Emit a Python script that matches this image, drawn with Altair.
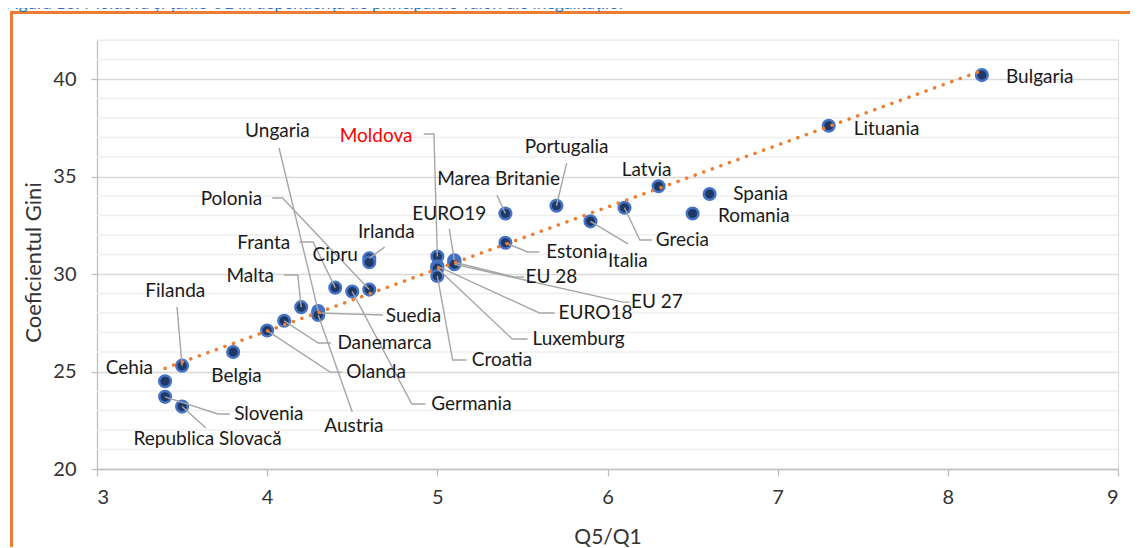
import altair as alt
import pandas as pd

# ---------------- data ----------------
countries = ["Bulgaria", "Lituania", "Spania", "Romania", "Latvia", "Grecia", "Italia",
             "Portugalia", "Marea Britanie", "Estonia", "Moldova", "EURO19", "EU 28",
             "EU 27", "EURO18", "Luxemburg", "Croatia", "Irlanda", "Cipru", "Polonia",
             "Germania", "Franta", "Ungaria", "Suedia", "Austria", "Malta", "Danemarca",
             "Olanda", "Belgia", "Filanda", "Cehia", "Slovenia", "Republica Slovacă"]
q5q1 = [8.2, 7.3, 6.6, 6.5, 6.3, 6.1, 5.9, 5.7, 5.4, 5.4, 5.0, 5.1, 5.1, 5.1, 5.0, 5.0,
        5.0, 4.6, 4.6, 4.6, 4.5, 4.4, 4.3, 4.3, 4.3, 4.2, 4.1, 4.0, 3.8, 3.5, 3.4, 3.4, 3.5]
gini = [40.2, 37.6, 34.1, 33.1, 34.5, 33.4, 32.7, 33.5, 33.1, 31.6, 30.9, 30.7, 30.6,
        30.5, 30.4, 30.3, 29.9, 30.8, 30.6, 29.2, 29.1, 29.3, 28.1, 28.0, 27.9, 28.3,
        27.6, 27.1, 26.0, 25.3, 24.5, 23.7, 23.2]

x_ticks = [3, 4, 5, 6, 7, 8, 9]
y_major = [20, 25, 30, 35, 40]
y_minor = [21, 22, 23, 24, 26, 27, 28, 29, 31, 32, 33, 34, 36, 37, 38, 39, 41, 42]

title_text = "Figura 13: Moldova și țările UE în dependența de principalele valori ale inegalităților"

# label placement (data units)
label_pos = {
    "Bulgaria": (8.54, 40.10), "Lituania": (7.64, 37.44), "Spania": (6.90, 34.12),
    "Romania": (6.86, 32.95), "Latvia": (6.23, 35.33), "Grecia": (6.44, 31.74),
    "Italia": (6.12, 30.67), "Estonia": (5.82, 31.13), "Portugalia": (5.76, 36.51),
    "Marea Britanie": (5.36, 34.87), "EURO19": (5.07, 33.08), "Moldova": (4.64, 37.08),
    "Ungaria": (4.06, 37.33), "Polonia": (3.79, 33.85), "Irlanda": (4.70, 32.15),
    "Franta": (3.98, 31.59), "Cipru": (4.40, 30.97), "Malta": (3.90, 29.90),
    "Filanda": (3.46, 29.13), "Cehia": (3.19, 25.18), "Belgia": (3.82, 24.77),
    "Slovenia": (4.01, 22.82), "Republica Slovacă": (3.65, 21.54), "Austria": (4.51, 22.21),
    "Germania": (5.20, 23.33), "Olanda": (4.64, 24.97), "Danemarca": (4.69, 26.46),
    "Suedia": (4.86, 27.85), "Croatia": (5.38, 25.59), "Luxemburg": (5.83, 26.67),
    "EURO18": (5.93, 28.00), "EU 27": (6.29, 28.56), "EU 28": (5.67, 29.85),
}

# leader-line waypoints from the label (data units); the line ends at the point
leaders = {
    "Moldova": [(4.92, 37.18), (4.98, 37.18)],
    "Ungaria": [(4.07, 36.46)],
    "Polonia": [(4.03, 33.90), (4.09, 33.90)],
    "Franta": [(4.19, 31.64), (4.27, 31.64)],
    "Malta": [(4.10, 29.95), (4.18, 29.95)],
    "Irlanda": [(4.69, 31.38)],
    "Filanda": [(3.47, 28.31)],
    "Slovenia": [(3.78, 22.82), (3.71, 22.82)],
    "Republica Slovacă": [(3.64, 22.10)],
    "Austria": [(4.50, 22.92)],
    "Germania": [(4.93, 23.33), (4.85, 23.33)],
    "Olanda": [(4.44, 24.97), (4.37, 24.97)],
    "Danemarca": [(4.375, 26.46), (4.30, 26.46)],
    "Suedia": [(4.68, 27.90)],
    "Croatia": [(5.17, 25.59), (5.09, 25.59)],
    "Luxemburg": [(5.53, 26.67), (5.44, 26.67)],
    "EURO18": [(5.69, 28.00), (5.60, 28.00)],
    "EU 27": [(6.13, 28.56), (6.09, 28.56)],
    "EU 28": [(5.51, 29.85), (5.45, 29.85)],
    "EURO19": [(5.07, 32.31)],
    "Estonia": [(5.60, 31.13), (5.53, 31.13)],
    "Italia": [(6.12, 31.54)],
    "Grecia": [(6.26, 31.74), (6.19, 31.74)],
    "Marea Britanie": [(5.35, 34.05)],
    "Portugalia": [(5.76, 35.69)],
}

# ---------------- tables ----------------
pts = pd.DataFrame({"name": countries, "x": q5q1, "y": gini})
pt_lookup = {n: (a, b) for n, a, b in zip(countries, q5q1, gini)}

lab = pd.DataFrame({
    "name": list(label_pos.keys()),
    "lx": [v[0] for v in label_pos.values()],
    "ly": [v[1] for v in label_pos.values()],
})
lab["col"] = ["#FF0000" if n == "Moldova" else "#1A1A1A" for n in lab["name"]]

rows = []
for n, wps in leaders.items():
    seq = list(wps) + [pt_lookup[n]]
    for i, (a, b) in enumerate(seq):
        rows.append({"name": n, "o": i, "x": a, "y": b})
lead = pd.DataFrame(rows)

FONT = "Lato"
xs = alt.Scale(domain=[3, 9], nice=False, zero=False)
ys = alt.Scale(domain=[20, 42], nice=False, zero=False)

x_axis = alt.Axis(
    values=x_ticks, format="d", grid=False, title="Q5/Q1", tickSize=7, tickColor="#BFBFBF",
    domainColor="#BFBFBF", domainWidth=1.3, tickWidth=1.3, labelFontSize=20,
    labelColor="#333333", labelPadding=11, labelFont=FONT, titleFont=FONT,
    titleFontSize=21, titleFontWeight="normal", titleColor="#333333",
    titleY=68, titleBaseline="middle")
y_axis = alt.Axis(
    values=y_major, format="d", grid=True, gridColor="#D9D9D9", gridWidth=1.3,
    title="Coeficientul Gini", tickSize=6, tickColor="#BFBFBF", tickWidth=1.3,
    domainColor="#BFBFBF", domainWidth=1.3, labelFontSize=20, labelColor="#333333",
    labelPadding=15, labelFont=FONT, titleFont=FONT, titleFontSize=22,
    titleFontWeight="normal", titleColor="#333333", titleX=-64, titleY=222,
    titleBaseline="middle")

minor = alt.Chart(pd.DataFrame({"v": y_minor})).mark_rule(
    color="#EFEFEF", strokeWidth=1.3
).encode(
    y=alt.Y("v:Q", scale=ys, axis=y_axis),
    x=alt.value(0), x2=alt.value(1021),
)

points = alt.Chart(pts).mark_point(
    filled=True, fill="#1F3864", stroke="#4472C4", strokeWidth=2.5, size=135, opacity=1, shape="circle"
).encode(
    x=alt.X("x:Q", scale=xs, axis=x_axis),
    y=alt.Y("y:Q", scale=ys, axis=y_axis),
)

leader_lines = alt.Chart(lead).mark_line(color="#A6A6A6", strokeWidth=1.4).encode(
    x=alt.X("x:Q", scale=xs), y=alt.Y("y:Q", scale=ys),
    detail="name:N", order="o:Q",
)

trend = alt.Chart(pts).transform_regression("x", "y").mark_line(
    color="#ED7D31", strokeWidth=3.5, strokeDash=[0.1, 9], strokeCap="round"
).encode(x=alt.X("x:Q", scale=xs), y=alt.Y("y:Q", scale=ys))

labels = alt.Chart(lab).mark_text(
    font=FONT, fontSize=19, align="center", baseline="middle"
).encode(
    x=alt.X("lx:Q", scale=xs), y=alt.Y("ly:Q", scale=ys),
    text="name:N", color=alt.Color("col:N", scale=None),
)

frame_left = alt.Chart(pts).mark_rule(color="#ED7D31", strokeWidth=2.2).encode(
    x=alt.value(-85.5), y=alt.value(-27.5), y2=alt.value(620))
frame_top = alt.Chart(pts).mark_rule(color="#ED7D31", strokeWidth=2.2).encode(
    x=alt.value(-86.5), x2=alt.value(1100), y=alt.value(-27.5))

fig_title = alt.Chart(pd.DataFrame({"t": [title_text]})).mark_text(
    font=FONT, fontSize=17, color="#2E74B5", align="left", baseline="alphabetic"
).encode(x=alt.value(-92), y=alt.value(-31.5), text="t:N")

chart = alt.layer(
    minor, points, leader_lines, trend, labels, frame_left, frame_top, fig_title
).properties(
    width=1021, height=429,
    autosize=alt.AutoSizeParams(type="none"),
    padding={"left": 89, "top": 32, "right": 12, "bottom": 78},
).configure_view(stroke=None).configure(background="white")

chart.save("out.html", embed_options={"renderer": "svg", "actions": False})
